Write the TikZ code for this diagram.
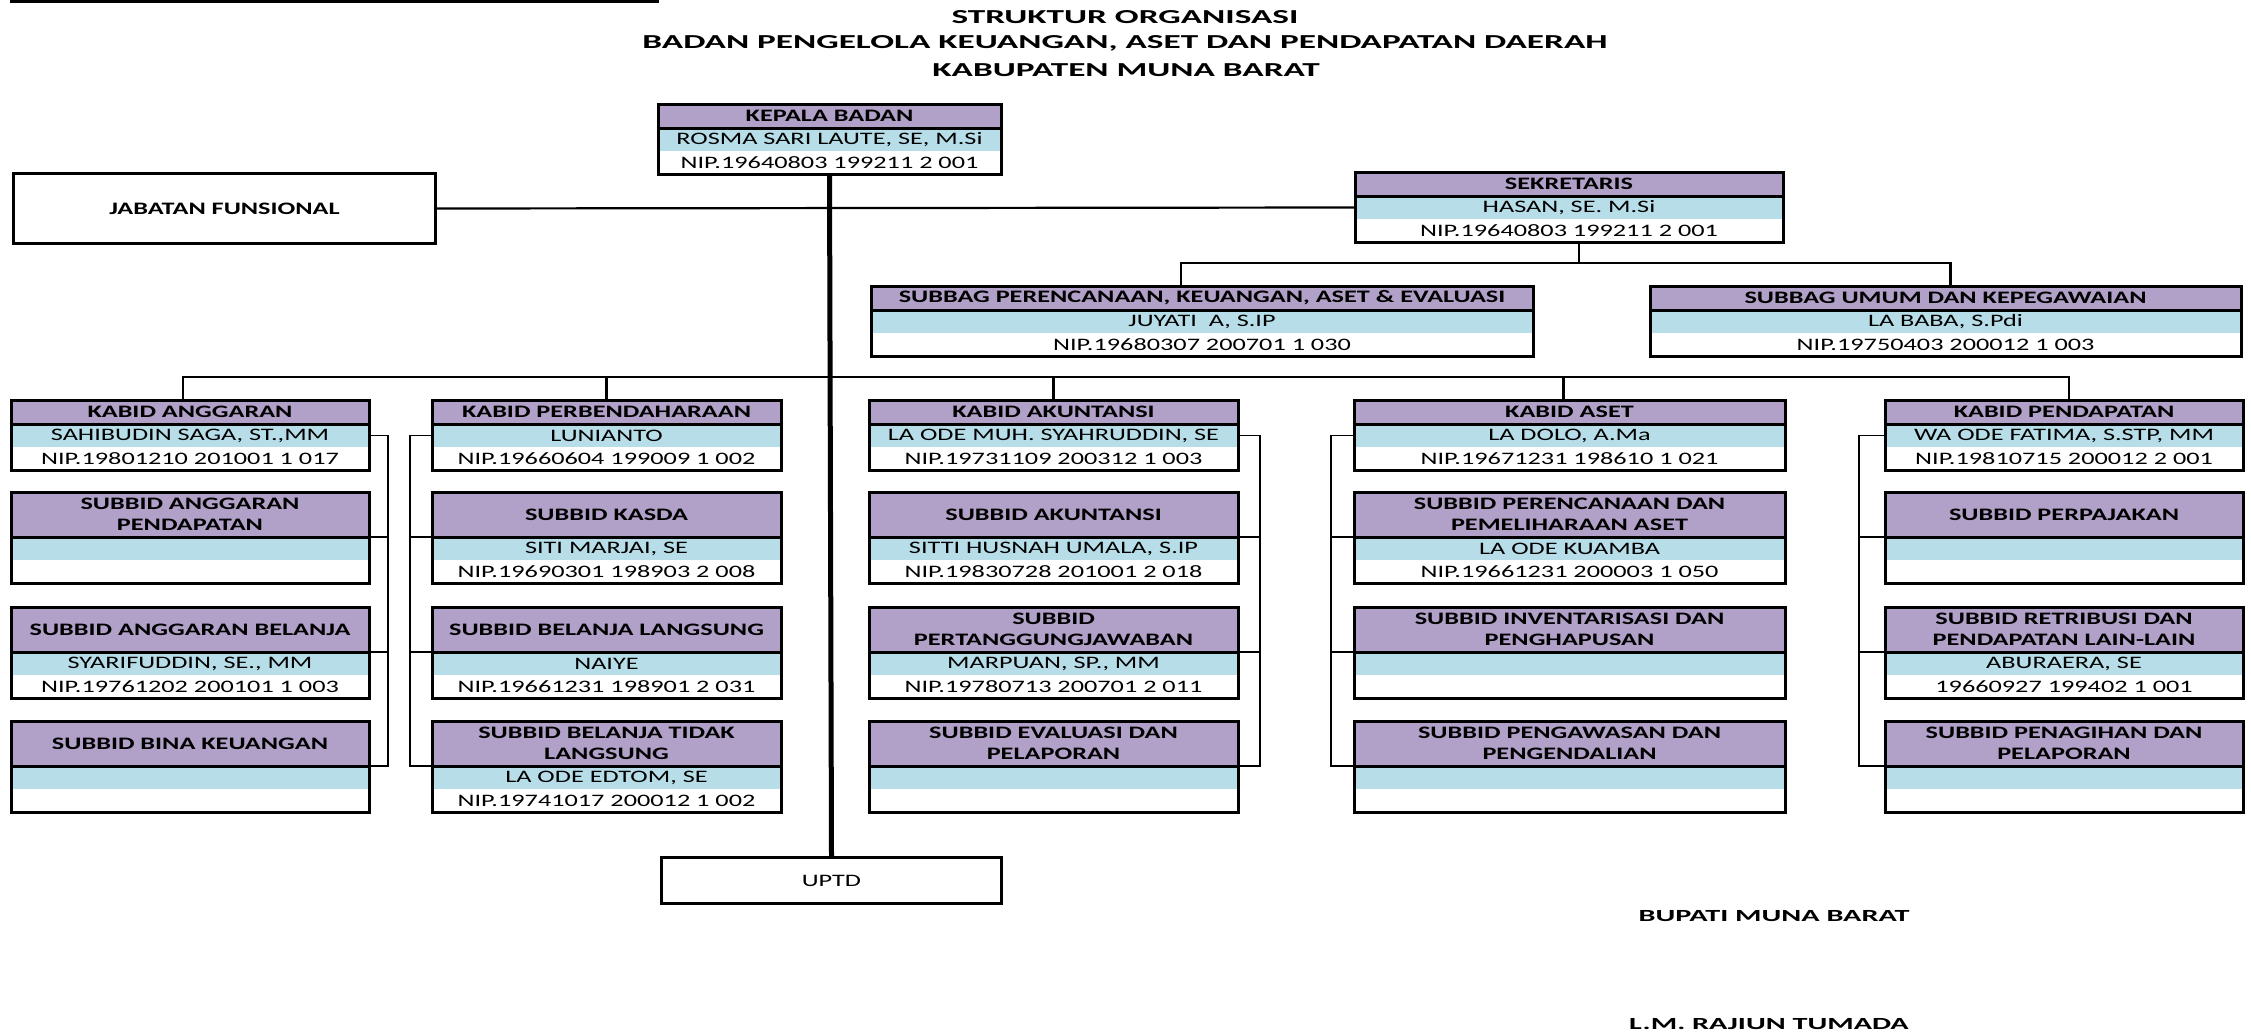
\documentclass[tikz,border=0pt]{standalone}
\usepackage{fontspec}
\setmainfont{Carlito}[FakeStretch=1.5]
\newfontfamily\headfont{Carlito}[FakeStretch=1.78]
\usepackage{tikz}
\usetikzlibrary{positioning}
\definecolor{cellpurple}{RGB}{177,160,199}
\definecolor{cellblue}{RGB}{183,222,232}
\newcommand{\cellsize}{\fontsize{17.5}{21}\selectfont}
\tikzset{
  headcell/.style={anchor=north west, fill=cellpurple, inner sep=0pt, outer sep=0pt, align=center, font=\cellsize\bfseries},
  namecell/.style={anchor=north, fill=cellblue, inner sep=0pt, outer sep=0pt, minimum height=23pt, font=\cellsize},
  nipcell/.style={anchor=north, fill=white, inner sep=0pt, outer sep=0pt, minimum height=23pt, font=\cellsize},
  cardline/.style={line width=3pt},
  plainbox/.style={draw, line width=3pt, inner sep=0pt, anchor=north west, align=center},
  linkline/.style={line width=2.2pt},
  bracket/.style={line width=1.5pt},
  spine/.style={line width=5pt},
  titletext/.style={font=\headfont\bfseries\fontsize{19.8}{23}\selectfont},
  signtext/.style={font=\headfont\bfseries\fontsize{17}{20}\selectfont}
}
% one card: name, left x, top y, width, header height, header, person, nip
\newcommand{\orgcard}[8]{%
  \node[headcell, minimum width=#4pt, minimum height=#5pt] (#1) at (#2,#3) {#6};
  \node[namecell, minimum width=#4pt] (#1-nm) at (#1.south) {#7};
  \node[nipcell, minimum width=#4pt] (#1-nip) at (#1-nm.south) {#8};
  \draw[cardline] (#1.north west) rectangle (#1-nip.south east);
  \draw[cardline] (#1.south west) -- (#1.south east);
}

\begin{document}
\begin{tikzpicture}[x=1pt, y=-1pt]
  \path[use as bounding box, fill=white] (0,0) rectangle (2251,1033);
  \draw[line width=3pt] (10,2) -- (659,2);

  % title
  \node[titletext] (ttl1) at (1125,17) {STRUKTUR ORGANISASI};
  \node[titletext] (ttl2) at (1125,43) {BADAN PENGELOLA KEUANGAN, ASET DAN PENDAPATAN DAERAH};
  \node[titletext] (ttl3) at (1126,70) {KABUPATEN MUNA BARAT};

  % top level
  \node[plainbox, minimum width=422pt, minimum height=70pt, font=\cellsize\bfseries] (jabatan) at (12,172) {JABATAN FUNSIONAL};
  \orgcard{kepala}{658}{104}{343}{24}{KEPALA BADAN}{ROSMA SARI LAUTE, SE, M.Si}{NIP.19640803 199211 2 001}
  \orgcard{sekre}{1355}{172}{428}{24}{SEKRETARIS}{HASAN, SE. M.Si}{NIP.19640803 199211 2 001}
  \orgcard{sbren}{871}{286}{662}{24}{SUBBAG PERENCANAAN, KEUANGAN, ASET \& EVALUASI}{JUYATI~~A, S.IP}{NIP.19680307 200701 1 030}
  \orgcard{sbumum}{1650}{286}{591}{24}{SUBBAG UMUM DAN KEPEGAWAIAN}{LA BABA, S.Pdi}{NIP.19750403 200012 1 003}

  % kabid
  \orgcard{kang}{11}{400}{358}{24}{KABID ANGGARAN}{SAHIBUDIN SAGA, ST.,MM}{NIP.19801210 201001 1 017}
  \orgcard{kben}{432}{400}{349}{24}{KABID PERBENDAHARAAN}{LUNIANTO}{NIP.19660604 199009 1 002}
  \orgcard{kaku}{869}{400}{369}{24}{KABID AKUNTANSI}{LA ODE MUH. SYAHRUDDIN, SE}{NIP.19731109 200312 1 003}
  \orgcard{kaset}{1354}{400}{431}{24}{KABID ASET}{LA DOLO, A.Ma}{NIP.19671231 198610 1 021}
  \orgcard{kpend}{1885}{400}{358}{24}{KABID PENDAPATAN}{WA ODE FATIMA, S.STP, MM}{NIP.19810715 200012 2 001}

  % subbid
  \orgcard{angA}{11}{492}{358}{45}{SUBBID ANGGARAN\\PENDAPATAN}{}{}
  \orgcard{angB}{11}{607}{358}{45}{SUBBID ANGGARAN BELANJA}{SYARIFUDDIN, SE., MM}{NIP.19761202 200101 1 003}
  \orgcard{angC}{11}{721}{358}{45}{SUBBID BINA KEUANGAN}{}{}
  \orgcard{benA}{432}{492}{349}{45}{SUBBID KASDA}{SITI MARJAI, SE}{NIP.19690301 198903 2 008}
  \orgcard{benB}{432}{607}{349}{45}{SUBBID BELANJA LANGSUNG}{NAIYE}{NIP.19661231 198901 2 031}
  \orgcard{benC}{432}{721}{349}{45}{SUBBID BELANJA TIDAK\\LANGSUNG}{LA ODE EDTOM, SE}{NIP.19741017 200012 1 002}
  \orgcard{akuA}{869}{492}{369}{45}{SUBBID AKUNTANSI}{SITTI HUSNAH UMALA, S.IP}{NIP.19830728 201001 2 018}
  \orgcard{akuB}{869}{607}{369}{45}{SUBBID\\PERTANGGUNGJAWABAN}{MARPUAN, SP., MM}{NIP.19780713 200701 2 011}
  \orgcard{akuC}{869}{721}{369}{45}{SUBBID EVALUASI DAN\\PELAPORAN}{}{}
  \orgcard{asetA}{1354}{492}{431}{45}{SUBBID PERENCANAAN DAN\\PEMELIHARAAN ASET}{LA ODE KUAMBA}{NIP.19661231 200003 1 050}
  \orgcard{asetB}{1354}{607}{431}{45}{SUBBID INVENTARISASI DAN\\PENGHAPUSAN}{}{}
  \orgcard{asetC}{1354}{721}{431}{45}{SUBBID PENGAWASAN DAN\\PENGENDALIAN}{}{}
  \orgcard{pendA}{1885}{492}{358}{45}{SUBBID PERPAJAKAN}{}{}
  \orgcard{pendB}{1885}{607}{358}{45}{SUBBID RETRIBUSI DAN\\PENDAPATAN LAIN-LAIN}{ABURAERA, SE}{19660927 199402 1 001}
  \orgcard{pendC}{1885}{721}{358}{45}{SUBBID PENAGIHAN DAN\\PELAPORAN}{}{}

  \node[plainbox, minimum width=340pt, minimum height=46pt, font=\cellsize] (uptd) at (660,856) {UPTD};

  % connectors
  \draw[linkline] (jabatan.east) -- (sekre-nm.west);
  \draw[linkline] ([xshift=-21pt]sbren.north) -- ++(0,-23) -| ([xshift=5pt]sbumum.north);
  \draw[linkline] ([xshift=10pt]sekre-nip.south) -- ++(0,21);
  \draw[linkline] ([xshift=-7pt]kang.north) -- ++(0,-23) -| ([xshift=5pt]kpend.north);
  \draw[linkline] (kben.north) -- ++(0,-23);
  \draw[linkline] (kaku.north) -- ++(0,-23);
  \draw[linkline] ([xshift=-6pt]kaset.north) -- ++(0,-23);
  \draw[spine] (kepala-nip.south) -- (uptd.north);

  % brackets inside each bidang
  \draw[bracket] (kang-nm.east) -- ++(19,0) |- (angC.south east);
  \draw[bracket] (angA.south east) -- ++(19,0);
  \draw[bracket] (angB.south east) -- ++(19,0);
  \draw[bracket] (kben-nm.west) -- ++(-22,0) |- (benC.south west);
  \draw[bracket] (benA.south west) -- ++(-22,0);
  \draw[bracket] (benB.south west) -- ++(-22,0);
  \draw[bracket] (kaku-nm.east) -- ++(22,0) |- (akuC.south east);
  \draw[bracket] (akuA.south east) -- ++(22,0);
  \draw[bracket] (akuB.south east) -- ++(22,0);
  \draw[bracket] (kaset-nm.west) -- ++(-23,0) |- (asetC.south west);
  \draw[bracket] (asetA.south west) -- ++(-23,0);
  \draw[bracket] (asetB.south west) -- ++(-23,0);
  \draw[bracket] (kpend-nm.west) -- ++(-26,0) |- (pendC.south west);
  \draw[bracket] (pendA.south west) -- ++(-26,0);
  \draw[bracket] (pendB.south west) -- ++(-26,0);

  % signature
  \node[signtext] (bupati) at (1774,916) {BUPATI MUNA BARAT};
  \node[signtext] (namabupati) at (1769,1024) {L.M. RAJIUN TUMADA};
\end{tikzpicture}
\end{document}
